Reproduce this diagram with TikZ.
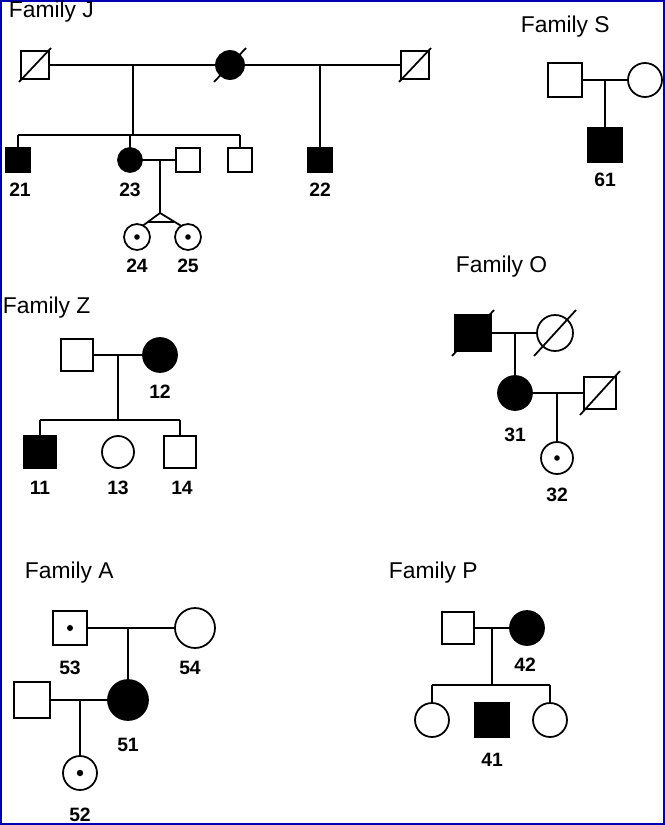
\documentclass[tikz,border=0pt]{standalone}
\usepackage{fontspec}
\setmainfont{Liberation Sans}
\begin{document}
\begin{tikzpicture}[x=0.02cm,y=-0.02cm,line width=1pt,
 sq/.style={draw,fill=white,rectangle,minimum size=#1*0.02cm,inner sep=0},
 ci/.style={draw,fill=white,circle,minimum size=#1*0.02cm,inner sep=0},
 aff/.style={fill=black},
 lab/.style={font=\bfseries\fontsize{11}{12}\selectfont},
 ttl/.style={font=\fontsize{13}{15}\selectfont,anchor=west,inner sep=0}]
\useasboundingbox (0,0) rectangle (665,825);
\draw[blue!70!black,line width=1pt] (1,1) rectangle (664,824);
% Family J
\node[ttl] (tJ) at (8,12) {Family J};
\coordinate (j1) at (133,65); \coordinate (j2) at (320,65);
\coordinate (js) at (133,135);
\draw (35,65) -- (415,65);
\draw (j1) -- (js); \draw (18,135) -- (240,135);
\draw (18,135) -- (18,160); \draw (130,135) -- (130,160); \draw (240,135) -- (240,160);
\draw (j2) -- (320,160);
\node[sq=28] (J1) at (35,65) {}; \draw (19,82) -- (51,48);
\node[ci=28,aff] (J2) at (230,65) {}; \draw (214,82) -- (246,48);
\node[sq=28] (J3) at (415,65) {}; \draw (399,82) -- (431,48);
\draw (130,160) -- (188,160); \draw (160,160) -- (160,213);
\node[sq=24,aff] (n21) at (18,160) {};
\node[ci=24,aff] (n23) at (130,160) {};
\node[sq=24] (Jh) at (188,160) {};
\node[sq=24] (Jb) at (240,160) {};
\node[sq=24,aff] (n22) at (320,160) {};
\draw (137,230) -- (160,213) -- (188,230); \draw (148,222) -- (175,222);
\node[ci=26] (n24) at (137,237) {}; \fill (n24) circle (2.8);
\node[ci=26] (n25) at (188,237) {}; \fill (n25) circle (2.8);
\node[lab] at (20,190) {21}; \node[lab] at (130,190) {23}; \node[lab] at (320,190) {22};
\node[lab] at (137,266) {24}; \node[lab] at (188,266) {25};
% Family S
\node[ttl] (tS) at (520,27) {Family S};
\draw (565,80) -- (645,80); \draw (605,80) -- (605,140);
\node[sq=34] (S1) at (565,80) {};
\node[ci=34] (S2) at (645,80) {};
\node[sq=34,aff] (n61) at (605,145) {};
\node[lab] at (605,180) {61};
% Family Z
\node[ttl] (tZ) at (2,308) {Family Z};
\draw (77,355) -- (160,355); \draw (118,355) -- (118,420); \draw (40,420) -- (180,420);
\draw (40,420) -- (40,450); \draw (180,420) -- (180,450);
\node[sq=32] (Z1) at (77,355) {};
\node[ci=34,aff] (n12) at (160,355) {};
\node[sq=32,aff] (n11) at (40,452) {};
\node[ci=32] (n13) at (118,452) {};
\node[sq=32] (n14) at (180,452) {};
\node[lab] at (160,392) {12}; \node[lab] at (40,488) {11};
\node[lab] at (118,488) {13}; \node[lab] at (182,488) {14};
% Family O
\node[ttl] (tO) at (455,267) {Family O};
\draw (473,333) -- (555,333); \draw (515,333) -- (515,393);
\draw (515,393) -- (600,393); \draw (557,393) -- (557,450);
\node[sq=36,aff] (O1) at (473,333) {}; \draw (452,356) -- (494,310);
\node[ci=36] (O2) at (555,333) {}; \draw (534,356) -- (576,310);
\node[ci=34,aff] (n31) at (515,393) {};
\node[sq=32] (O3) at (600,393) {}; \draw (580,415) -- (620,371);
\node[ci=32] (n32) at (557,458) {}; \fill (n32) circle (2.8);
\node[lab] at (515,435) {31}; \node[lab] at (557,495) {32};
% Family A
\node[ttl] (tA) at (24,573) {Family A};
\draw (70,628) -- (195,628); \draw (128,628) -- (128,700);
\draw (32,700) -- (128,700); \draw (80,700) -- (80,757);
\node[sq=34] (n53) at (70,628) {}; \fill (n53) circle (3);
\node[ci=40] (n54) at (195,628) {};
\node[sq=36] (A1) at (32,700) {};
\node[ci=40,aff] (n51) at (128,700) {};
\node[ci=34] (n52) at (80,773) {}; \fill (n52) circle (3.2);
\node[lab] at (70,668) {53}; \node[lab] at (190,668) {54};
\node[lab] at (128,745) {51}; \node[lab] at (80,815) {52};
% Family P
\node[ttl] (tP) at (388,573) {Family P};
\draw (458,628) -- (527,628); \draw (492,628) -- (492,685); \draw (432,685) -- (550,685);
\draw (432,685) -- (432,710); \draw (550,685) -- (550,710);
\node[sq=32] (P1) at (458,628) {};
\node[ci=34,aff] (n42) at (527,628) {};
\node[ci=34] (P2) at (432,720) {};
\node[sq=34,aff] (n41) at (492,720) {};
\node[ci=34] (P3) at (550,720) {};
\node[lab] at (525,665) {42}; \node[lab] at (492,760) {41};
\end{tikzpicture}
\end{document}
